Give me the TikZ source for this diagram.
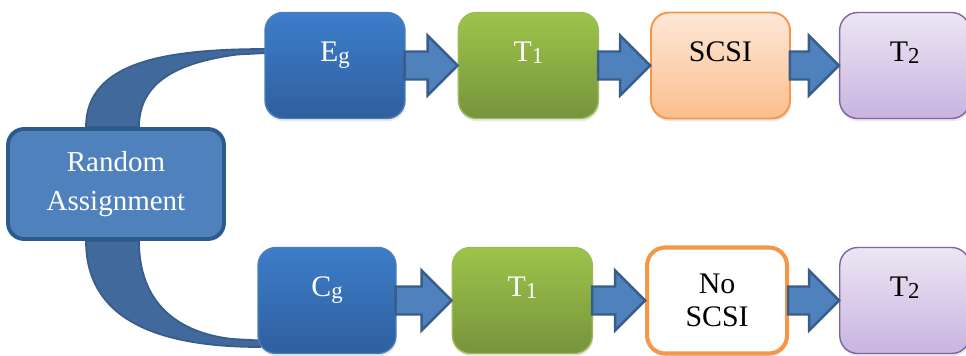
\documentclass[tikz,border=0pt]{standalone}
\usepackage{fontspec}
\setmainfont{Liberation Serif}
\newfontfamily\boxfont{Liberation Serif}
\usetikzlibrary{positioning, calc, backgrounds, shadows}

\definecolor{egtop}{HTML}{3D7DCA}
\definecolor{egbot}{HTML}{2F5F9E}
\definecolor{egline}{HTML}{4A7EBB}
\definecolor{rafill}{HTML}{4F81BD}
\definecolor{raline}{HTML}{2C5A8E}
\definecolor{bandfill}{HTML}{41699B}
\definecolor{bandline}{HTML}{385D8A}
\definecolor{gtop}{HTML}{9DC44A}
\definecolor{gbot}{HTML}{77933C}
\definecolor{gline}{HTML}{9BBB59}
\definecolor{otop}{HTML}{FDE8D8}
\definecolor{obot}{HTML}{FBBE8C}
\definecolor{oline}{HTML}{F79646}
\definecolor{ptop}{HTML}{ECE6F4}
\definecolor{pbot}{HTML}{C8B4E0}
\definecolor{pline}{HTML}{8064A2}

% Word-like subscript: larger and only slightly lowered
\newcommand{\lowidx}[1]{\raisebox{-1.7pt}{\fontsize{13}{13}\selectfont #1}}

% block arrow from the east side of #1 to the west side of #2
\newcommand{\blkarrow}[2]{%
  \draw[fatarrow] ($(#1.east)+(-1,-14)$) -- ($(#2.west)+(-30,-14)$) -- ($(#2.west)+(-30,-30)$)
    -- (#2.west) -- ($(#2.west)+(-30,30)$) -- ($(#2.west)+(-30,14)$) -- ($(#1.east)+(-1,14)$) -- cycle;}

\begin{document}
\begin{tikzpicture}[x=0.02cm, y=-0.02cm,
  box/.style={rounded corners=0.36cm, minimum height=2.12cm, align=center,
              font=\boxfont\fontsize{17}{19}\selectfont,
              drop shadow={opacity=0.18, shadow xshift=0.4pt, shadow yshift=-1.6pt}},
  oneline/.style={text height=0.42cm, text depth=0.6cm},
  bluebox/.style={box, oneline, draw=egline, line width=0.8pt, top color=egtop, bottom color=egbot, text=white},
  greenbox/.style={box, oneline, draw=gline, line width=0.8pt, top color=gtop, bottom color=gbot, text=white, minimum width=2.8cm},
  orangebox/.style={box, draw=oline, line width=1.1pt, top color=otop, bottom color=obot, minimum width=2.78cm},
  purplebox/.style={box, oneline, draw=pline, line width=0.8pt, top color=ptop, bottom color=pbot, minimum width=2.6cm},
  band/.style={fill=bandfill, draw=bandline, line width=1pt},
  fatarrow/.style={fill=rafill, draw=bandline, line width=1.4pt, line join=miter},
]
  \useasboundingbox (0,0) rectangle (966,355);

  \node[draw=raline, line width=2.2pt, fill=rafill, text=white, rounded corners=0.32cm,
        minimum width=4.32cm, minimum height=2.2cm, align=center,
        font=\boxfont\fontsize{16.5}{22.5}\selectfont] (ra) at (116,184) {Random\\Assignment};

  % experimental group
  \node[bluebox, minimum width=2.8cm]                       (eg)    at (335,65.5) {E\lowidx{g}};
  \node[greenbox, right=1.04cm of eg]                       (t1a)   {T\lowidx{1}};
  \node[orangebox, oneline, right=1.02cm of t1a]            (scsia) {SCSI};
  \node[purplebox, right=0.96cm of scsia]                   (t2a)   {T\lowidx{2}};

  % control group
  \node[bluebox, minimum width=2.76cm]                      (cg)    at (327,300.5) {C\lowidx{g}};
  \node[greenbox, right=1.1cm of cg]                        (t1b)   {T\lowidx{1}};
  \node[orangebox, fill=white, top color=white, bottom color=white, line width=2.3pt,
        minimum width=2.8cm, right=1.04cm of t1b]           (noscsi) {No\\SCSI};
  \node[purplebox, right=1.0cm of noscsi]                   (t2b)   {T\lowidx{2}};

  \blkarrow{eg}{t1a}
  \blkarrow{t1a}{scsia}
  \blkarrow{scsia}{t2a}
  \blkarrow{cg}{t1b}
  \blkarrow{t1b}{noscsi}
  \blkarrow{noscsi}{t2b}

  % curved bands from the assignment box to both groups
  \begin{scope}[on background layer]
    \coordinate (ra-o) at ($(ra.north)+(-30,0)$);
    \coordinate (ra-i) at ($(ra.north)+(23,0)$);
    \coordinate (eg-o) at ($(eg.west)+(3,-16.5)$);
    \coordinate (eg-i) at ($(eg.west)+(3,-12.5)$);
    \coordinate (eg-t) at ($(eg.west)+(-27,-11)$);
    \draw[band] (ra-o) .. controls +(0,-66) and +(-100,0) .. (eg-o) -- (eg-i) -- (eg-t)
      .. controls +(-60,8) and +(0,-45) .. (ra-i) -- cycle;

    \coordinate (rb-o) at ($(ra.south)+(-30,0)$);
    \coordinate (rb-i) at ($(ra.south)+(23,0)$);
    \coordinate (cg-o) at ($(cg.west)+(3,46.5)$);
    \coordinate (cg-i) at ($(cg.west)+(3,40)$);
    \coordinate (cg-t) at ($(cg.west)+(-25,38.5)$);
    \draw[band] (rb-o) .. controls +(0,78) and +(-104,0) .. (cg-o) -- (cg-i) -- (cg-t)
      .. controls +(-45,-5) and +(0,70) .. (rb-i) -- cycle;
  \end{scope}
\end{tikzpicture}
\end{document}
